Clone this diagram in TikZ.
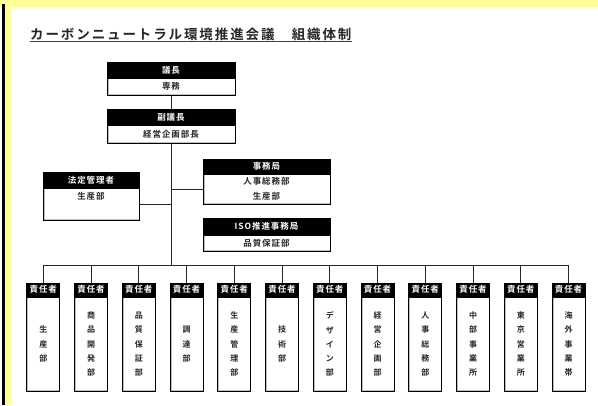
\documentclass[tikz,border=0pt]{standalone}
\usepackage{fontspec}
\setmainfont{Noto Sans CJK JP}[BoldFont={Noto Sans CJK JP Bold}]
\newfontfamily\ttlfont{Noto Sans CJK JP}[BoldFont={Noto Sans CJK JP Bold},LetterSpace=14]
\newfontfamily\boxfont{Noto Sans CJK JP}[BoldFont={Noto Sans CJK JP Bold},LetterSpace=11]
\definecolor{paleyellow}{HTML}{FFFF99}
\begin{document}
\begin{tikzpicture}[x=1pt,y=-1pt,
  hdr/.style={fill=black,draw=black,text=white,line width=0.8pt,inner sep=0pt,anchor=north,
    font=\boxfont\bfseries\fontsize{8.5}{10}\selectfont},
  body/.style={fill=white,draw=black,line width=0.8pt,inner sep=0pt,anchor=north,align=center,
    text=black!85,font=\boxfont\bfseries\fontsize{8.5}{15}\selectfont,
    path picture={\draw[black!25,line width=1pt]
      ([xshift=1pt]path picture bounding box.north west) --
      ([xshift=1pt,yshift=1pt]path picture bounding box.south west) --
      ([yshift=1pt]path picture bounding box.south east);}},
  vbody/.style={body,font=\bfseries\fontsize{8}{14.3}\selectfont},
  conn/.style={draw=black!85,line width=0.9pt}]
\useasboundingbox (0,0) rectangle (598,405);
% background
\fill[white] (0,0) rectangle (598,405);
\fill[paleyellow] (0,0) rectangle (598,7);
\fill[paleyellow] (5,0) rectangle (12,405);
\fill[black] (2,4) rectangle (5,405);
% title
\node[anchor=base west,inner sep=0pt,text=black!85,font=\ttlfont\bfseries\fontsize{13.5}{15}\selectfont] (ttl) at (30,39.6)
  {カーボンニュートラル環境推進会議　組織体制};
\draw[line width=0.8pt,black!75] ([yshift=-2.1pt]ttl.base west) -- ([yshift=-2.1pt]ttl.base east);
% chair
\node[hdr,minimum width=128pt,minimum height=15pt] (gichoH) at (171,62) {議長};
\node[body,minimum width=128pt,minimum height=17pt] (gichoB) at (gichoH.south) {専務};
% vice chair
\node[hdr,minimum width=128pt,minimum height=15pt] (fukuH) at (171,109) {副議長};
\node[body,minimum width=128pt,minimum height=18pt] (fukuB) at (fukuH.south) {経営企画部長};
% legal manager
\node[hdr,minimum width=96pt,minimum height=15pt] (hoteiH) at (91,172) {法定管理者};
\node[body,minimum width=96pt,minimum height=32pt] (hoteiB) at (hoteiH.south) {生産部\\\phantom{生産部}};
% secretariat
\node[hdr,minimum width=127pt,minimum height=14pt] (jimuH) at (266.5,159) {事務局};
\node[body,minimum width=127pt,minimum height=30pt] (jimuB) at (jimuH.south) {人事総務部\\生産部};
% ISO
\node[hdr,minimum width=127pt,minimum height=16pt] (isoH) at (266.5,218) {ISO推進事務局};
\node[body,minimum width=127pt,minimum height=16pt] (isoB) at (isoH.south) {品質保証部};
% trunk and bus
\coordinate (bus) at (171,265);
\coordinate (busL) at (43.3,265);
\coordinate (busR) at (568.7,265);
\draw[conn] (gichoB.south) -- (fukuH.north);
\draw[conn] (fukuB.south) -- (bus);
\draw[conn] (hoteiB.east) -- (hoteiB.east -| bus);
\draw[conn] (jimuB.west) -- (jimuB.west -| bus);
\draw[conn] (busL) -- (busR);
% bottom boxes
\foreach \i/\t in {0/{生\\産\\部},1/{商\\品\\開\\発\\部},2/{品\\質\\保\\証\\部},3/{調\\達\\部},
  4/{生\\産\\管\\理\\部},5/{技\\術\\部},6/{デ\\ザ\\イ\\ン\\部},7/{経\\営\\企\\画\\部},
  8/{人\\事\\総\\務\\部},9/{中\\部\\事\\業\\所},10/{東\\京\\営\\業\\所},11/{海\\外\\事\\業\\帯}}{
  \node[hdr,minimum width=33pt,minimum height=13.5pt] (h\i) at (43.3+47.75*\i,282.5) {責任者};
  \node[vbody,minimum width=33pt,minimum height=94pt] (b\i) at (h\i.south) {\t};
  \draw[conn] (h\i.north) -- (h\i.north |- busL);
}
\end{tikzpicture}
\end{document}
